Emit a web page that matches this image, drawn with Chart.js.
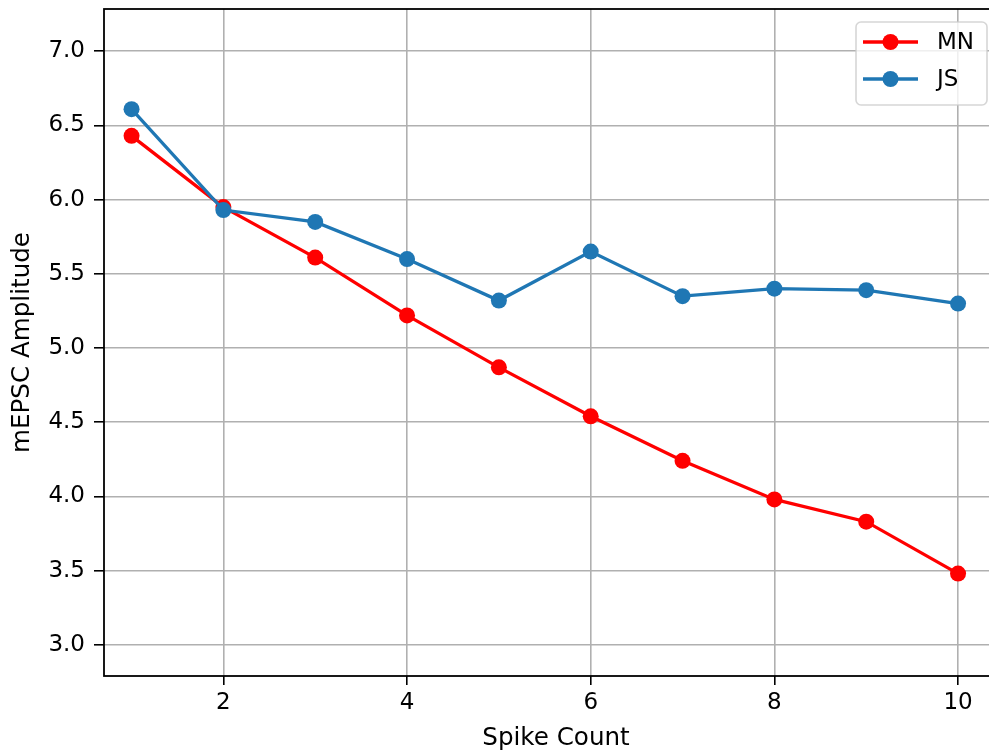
<!DOCTYPE html>
<html>
<head>
<meta charset="utf-8">
<script src="https://cdn.jsdelivr.net/npm/chart.js@4/dist/chart.umd.min.js"></script>
<style>
  html, body { margin: 0; padding: 0; background: #ffffff; overflow: hidden; width: 989px; height: 754px; }
  #chart { display: block; }
</style>
</head>
<body>
<canvas id="chart" width="1009" height="754"></canvas>
<script>
// Spike count on the x axis, mEPSC amplitude per group on the y axis
const spikeCounts = [1, 2, 3, 4, 5, 6, 7, 8, 9, 10];
const mnAmplitude = [6.43, 5.95, 5.61, 5.22, 4.87, 4.54, 4.24, 3.98, 3.83, 3.48];
const jsAmplitude = [6.61, 5.93, 5.85, 5.60, 5.32, 5.65, 5.35, 5.40, 5.39, 5.30];
const seriesNames = ['MN', 'JS'];
const xTickValues = [2, 4, 6, 8, 10];
const yTickValues = [3.0, 3.5, 4.0, 4.5, 5.0, 5.5, 6.0, 6.5, 7.0];

const FONT = "'DejaVu Sans', 'Liberation Sans', sans-serif";
const TICK_SIZE = 23;
const LABEL_SIZE = 24.6;
const GRID = '#b0b0b0';
const VISIBLE_WIDTH = 989; // the plot runs a little past the visible page edge

const toPoints = ys => spikeCounts.map((x, i) => ({ x, y: ys[i] }));

// Black frame around the plotting area
const framePlugin = {
  id: 'frame',
  afterDatasetsDraw(chart) {
    const { ctx, chartArea: a } = chart;
    ctx.save();
    ctx.strokeStyle = '#000000';
    ctx.lineWidth = 1.8;
    ctx.strokeRect(a.left, a.top, a.right - a.left, a.bottom - a.top);
    ctx.restore();
  }
};

// Legend box with a line-and-marker sample for each series
const lineLegendPlugin = {
  id: 'lineLegend',
  afterDraw(chart) {
    const { ctx, chartArea: a } = chart;
    const boxW = 131, boxH = 83;
    const bx = VISIBLE_WIDTH - 2 - boxW, by = a.top + 13;
    ctx.save();
    ctx.beginPath();
    ctx.roundRect(bx, by, boxW, boxH, 5);
    ctx.fillStyle = 'rgba(255,255,255,0.8)';
    ctx.fill();
    ctx.strokeStyle = 'rgba(204,204,204,0.8)';
    ctx.lineWidth = 1.6;
    ctx.stroke();
    chart.data.datasets.forEach((ds, i) => {
      const cy = by + 20 + i * 37;
      const x0 = bx + 7, x1 = bx + 62;
      ctx.strokeStyle = ds.borderColor;
      ctx.lineWidth = ds.borderWidth;
      ctx.beginPath();
      ctx.moveTo(x0, cy);
      ctx.lineTo(x1, cy);
      ctx.stroke();
      ctx.fillStyle = ds.pointBackgroundColor;
      ctx.beginPath();
      ctx.arc((x0 + x1) / 2, cy, ds.pointRadius, 0, Math.PI * 2);
      ctx.fill();
      ctx.fillStyle = '#000000';
      ctx.font = TICK_SIZE + 'px ' + FONT;
      ctx.textAlign = 'left';
      ctx.textBaseline = 'middle';
      ctx.fillText(ds.label, bx + 81, cy + 1);
    });
    ctx.restore();
  }
};

const lineStyle = color => ({
  borderColor: color,
  backgroundColor: color,
  pointBackgroundColor: color,
  pointBorderColor: color,
  borderWidth: 3.3,
  pointRadius: 8,
  pointBorderWidth: 0,
  pointHoverRadius: 8,
  tension: 0,
  fill: false
});

new Chart(document.getElementById('chart'), {
  type: 'line',
  data: {
    datasets: [
      Object.assign({ label: seriesNames[0], data: toPoints(mnAmplitude), order: 1 }, lineStyle('#ff0000')),
      Object.assign({ label: seriesNames[1], data: toPoints(jsAmplitude), order: 0 }, lineStyle('#1f77b4'))
    ]
  },
  options: {
    responsive: false,
    animation: false,
    devicePixelRatio: 1,
    layout: { autoPadding: false, padding: { top: 9, right: 1, left: 0, bottom: 0 } },
    plugins: {
      legend: { display: false },
      tooltip: { enabled: false }
    },
    scales: {
      x: {
        type: 'linear',
        min: 0.7,
        max: 10.544,
        afterBuildTicks: s => { s.ticks = xTickValues.map(v => ({ value: v })); },
        afterFit: s => { s.height = 78; s.paddingLeft = 0; s.paddingRight = 0; },
        grid: { color: GRID, lineWidth: 1.6, tickColor: '#000000', tickLength: 9, drawTicks: true },
        border: { display: false },
        ticks: {
          color: '#000000',
          font: { family: FONT, size: TICK_SIZE },
          padding: 4,
          maxRotation: 0,
          callback: v => String(v)
        },
        title: {
          display: true,
          text: 'Spike Count',
          color: '#000000',
          font: { family: FONT, size: LABEL_SIZE, lineHeight: 1.2 },
          padding: { top: 0, bottom: 1 }
        }
      },
      y: {
        type: 'linear',
        min: 2.79,
        max: 7.285,
        afterBuildTicks: s => { s.ticks = yTickValues.map(v => ({ value: v })); },
        afterFit: s => { s.width = 104; s.paddingTop = 0; s.paddingBottom = 0; },
        grid: { color: GRID, lineWidth: 1.6, tickColor: '#000000', tickLength: 10, drawTicks: true },
        border: { display: false },
        ticks: {
          color: '#000000',
          font: { family: FONT, size: TICK_SIZE },
          padding: 9,
          callback: v => Number(v).toFixed(1)
        },
        title: {
          display: true,
          text: 'mEPSC Amplitude',
          color: '#000000',
          font: { family: FONT, size: LABEL_SIZE, lineHeight: 1.2 },
          padding: { top: 8, bottom: 0 }
        }
      }
    }
  },
  plugins: [framePlugin, lineLegendPlugin]
});
</script>
</body>
</html>
